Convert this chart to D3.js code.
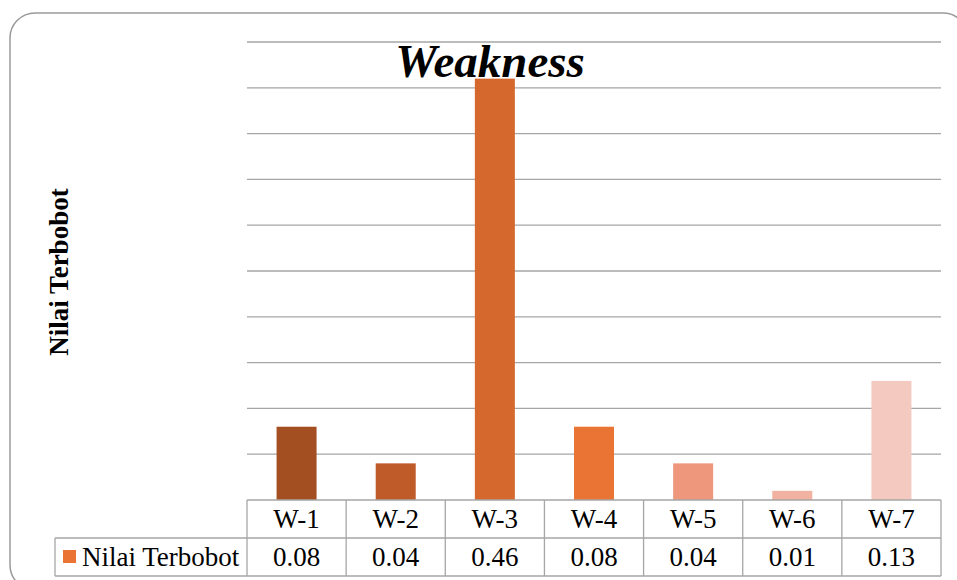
<!DOCTYPE html>
<html>
<head>
<meta charset="utf-8">
<script src="https://cdn.jsdelivr.net/npm/d3@7"></script>
<style>
  html, body { margin: 0; padding: 0; background: #fff; }
  svg { display: block; }
</style>
</head>
<body>
<script>
// Weakness factors and their weighted scores
const categories = ["W-1", "W-2", "W-3", "W-4", "W-5", "W-6", "W-7"];
const values = [0.08, 0.04, 0.46, 0.08, 0.04, 0.01, 0.13];
const valueLabels = ["0.08", "0.04", "0.46", "0.08", "0.04", "0.01", "0.13"];
const barColors = ["#A44F22", "#BF5B28", "#D4682D", "#EA7433", "#EE977C", "#F1B2A2", "#F4CAC0"];
const yTicks = [0, 0.05, 0.1, 0.15, 0.2, 0.25, 0.3, 0.35, 0.4, 0.45, 0.5];
const seriesName = "Nilai Terbobot";
const chartTitle = "Weakness";
const legendColor = "#EA7433";

const W = 957, H = 580;
const plot = { left: 247, right: 941, top: 42, bottom: 500 };
const rowH = 38;
const serif = "'Liberation Serif', 'Times New Roman', serif";
const gridColor = "#A6A6A6";
const tableFont = 27;

const svg = d3.select("body").append("svg")
  .attr("width", W).attr("height", H);

// Outer rounded frame
svg.append("rect")
  .attr("x", 10).attr("y", 13)
  .attr("width", 958).attr("height", 577)
  .attr("rx", 25).attr("ry", 25)
  .attr("fill", "#fff")
  .attr("stroke", "#9A9A9A").attr("stroke-width", 1.5);

const x = d3.scaleBand()
  .domain(categories)
  .range([plot.left, plot.right])
  .paddingInner(0.5965)
  .paddingOuter(0.5965 / 2);

const y = d3.scaleLinear()
  .domain([0, 0.5])
  .range([plot.bottom, plot.top]);

// Horizontal gridlines
svg.append("g")
  .selectAll("line")
  .data(yTicks.filter(t => t > 0))
  .join("line")
  .attr("x1", plot.left).attr("x2", plot.right)
  .attr("y1", d => y(d)).attr("y2", d => y(d))
  .attr("stroke", gridColor).attr("stroke-width", 1.3);

// Title
svg.append("text")
  .attr("x", 490).attr("y", 77)
  .attr("text-anchor", "middle")
  .attr("font-family", serif)
  .attr("font-weight", "bold")
  .attr("font-style", "italic")
  .attr("font-size", 47)
  .attr("fill", "#000")
  .text(chartTitle);

// Bars
svg.append("g")
  .selectAll("rect")
  .data(values)
  .join("rect")
  .attr("x", (d, i) => x(categories[i]))
  .attr("y", d => y(d))
  .attr("width", x.bandwidth())
  .attr("height", d => y(0) - y(d))
  .attr("fill", (d, i) => barColors[i]);

// Y axis title
svg.append("text")
  .attr("transform", "translate(68,272) rotate(-90)")
  .attr("text-anchor", "middle")
  .attr("font-family", serif)
  .attr("font-weight", "bold")
  .attr("font-size", 27)
  .attr("fill", "#000")
  .text(seriesName);

// Data table under the plot
const table = svg.append("g")
  .attr("fill", "none")
  .attr("stroke", gridColor)
  .attr("stroke-width", 1.3);

const colEdges = categories.map(c => x(c) - x.step() * x.paddingInner() / 2);
colEdges.push(plot.right);

// horizontal rules
table.append("line").attr("x1", plot.left).attr("x2", plot.right)
  .attr("y1", plot.bottom).attr("y2", plot.bottom);
table.append("line").attr("x1", 55).attr("x2", plot.right)
  .attr("y1", plot.bottom + rowH).attr("y2", plot.bottom + rowH);
table.append("line").attr("x1", 55).attr("x2", plot.right)
  .attr("y1", plot.bottom + 2 * rowH).attr("y2", plot.bottom + 2 * rowH);
// vertical rules
table.selectAll("line.col")
  .data(colEdges)
  .join("line")
  .attr("class", "col")
  .attr("x1", d => d).attr("x2", d => d)
  .attr("y1", plot.bottom).attr("y2", plot.bottom + 2 * rowH);
table.append("line").attr("x1", 55).attr("x2", 55)
  .attr("y1", plot.bottom + rowH).attr("y2", plot.bottom + 2 * rowH);

const centers = categories.map(c => x(c) + x.bandwidth() / 2);

svg.append("g")
  .selectAll("text")
  .data(categories)
  .join("text")
  .attr("x", (d, i) => centers[i])
  .attr("y", plot.bottom + 28)
  .attr("text-anchor", "middle")
  .attr("font-family", serif)
  .attr("font-size", tableFont)
  .attr("fill", "#000")
  .text(d => d);

svg.append("g")
  .selectAll("text")
  .data(valueLabels)
  .join("text")
  .attr("x", (d, i) => centers[i])
  .attr("y", plot.bottom + rowH + 28)
  .attr("text-anchor", "middle")
  .attr("font-family", serif)
  .attr("font-size", tableFont)
  .attr("fill", "#000")
  .text(d => d);

// Legend key inside the table
svg.append("rect")
  .attr("x", 63).attr("y", 550)
  .attr("width", 13).attr("height", 13)
  .attr("fill", legendColor);
svg.append("text")
  .attr("x", 82).attr("y", plot.bottom + rowH + 28)
  .attr("font-family", serif)
  .attr("font-size", tableFont)
  .attr("fill", "#000")
  .text(seriesName);
</script>
</body>
</html>
